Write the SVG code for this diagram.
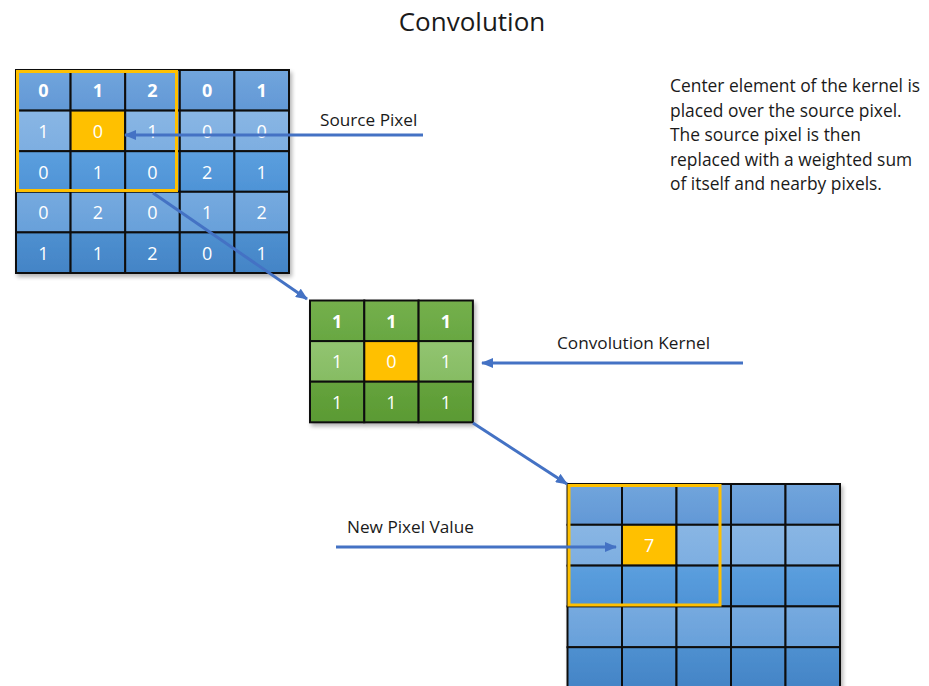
<svg xmlns="http://www.w3.org/2000/svg" width="929" height="686" viewBox="0 0 929 686">
  <style>
    .t { font-family: "Open Sans", "Noto Sans", "Liberation Sans", sans-serif; fill: #1a1a1a; }
    .lbl { font-size: 17.2px; }
    .num { font-family: "Open Sans", "Noto Sans", "Liberation Sans", sans-serif; fill: #ffffff; font-size: 18px; text-anchor: middle; dominant-baseline: central; }
    .b { font-weight: 700; }
    .cell { stroke: #111111; stroke-width: 2; }
    .frame { fill: none; stroke: #FFC000; stroke-width: 3; }
    .conn { stroke: #4472C4; stroke-width: 3; fill: none; marker-end: url(#arrow); }
    .b0 { fill: url(#gB0); } .b1 { fill: url(#gB1); } .b2 { fill: url(#gB2); } .b3 { fill: url(#gB3); } .b4 { fill: url(#gB4); }
    .g0 { fill: url(#gG0); } .g1 { fill: url(#gG1); } .g2 { fill: url(#gG2); }
    .hot { fill: #FFC000; }
  </style>
  <defs>
    <marker id="arrow" viewBox="0 0 12 10" markerWidth="12" markerHeight="10" refX="11" refY="5" orient="auto" markerUnits="userSpaceOnUse">
      <path d="M0,0 L12,5 L0,10 Z" fill="#4472C4"/>
    </marker>
    <filter id="shadow" x="-5%" y="-5%" width="115%" height="115%">
      <feGaussianBlur in="SourceAlpha" stdDeviation="2"/>
      <feOffset dx="2" dy="3" result="o"/>
      <feComponentTransfer><feFuncA type="linear" slope="0.3"/></feComponentTransfer>
      <feMerge><feMergeNode/><feMergeNode in="SourceGraphic"/></feMerge>
    </filter>
    <linearGradient id="gB0" x1="0" y1="0" x2="0" y2="1"><stop offset="0" stop-color="#71A5DC"/><stop offset="1" stop-color="#6298D6"/></linearGradient>
    <linearGradient id="gB1" x1="0" y1="0" x2="0" y2="1"><stop offset="0" stop-color="#89B6E4"/><stop offset="1" stop-color="#7DAEE1"/></linearGradient>
    <linearGradient id="gB2" x1="0" y1="0" x2="0" y2="1"><stop offset="0" stop-color="#5C9FDE"/><stop offset="1" stop-color="#4E93D6"/></linearGradient>
    <linearGradient id="gB3" x1="0" y1="0" x2="0" y2="1"><stop offset="0" stop-color="#76AADF"/><stop offset="1" stop-color="#68A0DA"/></linearGradient>
    <linearGradient id="gB4" x1="0" y1="0" x2="0" y2="1"><stop offset="0" stop-color="#4F90D0"/><stop offset="1" stop-color="#4384C6"/></linearGradient>
    <linearGradient id="gG0" x1="0" y1="0" x2="0" y2="1"><stop offset="0" stop-color="#75B04C"/><stop offset="1" stop-color="#68A742"/></linearGradient>
    <linearGradient id="gG1" x1="0" y1="0" x2="0" y2="1"><stop offset="0" stop-color="#92C471"/><stop offset="1" stop-color="#86BC63"/></linearGradient>
    <linearGradient id="gG2" x1="0" y1="0" x2="0" y2="1"><stop offset="0" stop-color="#66A33D"/><stop offset="1" stop-color="#5A9A33"/></linearGradient>
  </defs>

  <rect width="929" height="686" fill="#ffffff"/>

  <!-- Title -->
  <text class="t" x="472" y="31" font-size="26" text-anchor="middle">Convolution</text>

  <!-- Source image: 5x5 pixel grid -->
  <g id="source-grid" filter="url(#shadow)">
    <!-- row 0 -->
    <rect class="cell b0" x="16" y="70" width="54.6" height="40.6"/>
    <rect class="cell b0" x="70.6" y="70" width="54.6" height="40.6"/>
    <rect class="cell b0" x="125.2" y="70" width="54.6" height="40.6"/>
    <rect class="cell b0" x="179.8" y="70" width="54.6" height="40.6"/>
    <rect class="cell b0" x="234.4" y="70" width="54.6" height="40.6"/>
    <!-- row 1 -->
    <rect class="cell b1" x="16" y="110.6" width="54.6" height="40.6"/>
    <rect class="cell hot" x="70.6" y="110.6" width="54.6" height="40.6"/>
    <rect class="cell b1" x="125.2" y="110.6" width="54.6" height="40.6"/>
    <rect class="cell b1" x="179.8" y="110.6" width="54.6" height="40.6"/>
    <rect class="cell b1" x="234.4" y="110.6" width="54.6" height="40.6"/>
    <!-- row 2 -->
    <rect class="cell b2" x="16" y="151.2" width="54.6" height="40.6"/>
    <rect class="cell b2" x="70.6" y="151.2" width="54.6" height="40.6"/>
    <rect class="cell b2" x="125.2" y="151.2" width="54.6" height="40.6"/>
    <rect class="cell b2" x="179.8" y="151.2" width="54.6" height="40.6"/>
    <rect class="cell b2" x="234.4" y="151.2" width="54.6" height="40.6"/>
    <!-- row 3 -->
    <rect class="cell b3" x="16" y="191.8" width="54.6" height="40.6"/>
    <rect class="cell b3" x="70.6" y="191.8" width="54.6" height="40.6"/>
    <rect class="cell b3" x="125.2" y="191.8" width="54.6" height="40.6"/>
    <rect class="cell b3" x="179.8" y="191.8" width="54.6" height="40.6"/>
    <rect class="cell b3" x="234.4" y="191.8" width="54.6" height="40.6"/>
    <!-- row 4 -->
    <rect class="cell b4" x="16" y="232.4" width="54.6" height="40.6"/>
    <rect class="cell b4" x="70.6" y="232.4" width="54.6" height="40.6"/>
    <rect class="cell b4" x="125.2" y="232.4" width="54.6" height="40.6"/>
    <rect class="cell b4" x="179.8" y="232.4" width="54.6" height="40.6"/>
    <rect class="cell b4" x="234.4" y="232.4" width="54.6" height="40.6"/>
  </g>
  <g id="source-values">
    <text class="num b" x="43.3" y="90.3">0</text>
    <text class="num b" x="97.9" y="90.3">1</text>
    <text class="num b" x="152.5" y="90.3">2</text>
    <text class="num b" x="207.1" y="90.3">0</text>
    <text class="num b" x="261.7" y="90.3">1</text>
    <text class="num" x="43.3" y="130.9">1</text>
    <text class="num" x="97.9" y="130.9">0</text>
    <text class="num" x="152.5" y="130.9">1</text>
    <text class="num" x="207.1" y="130.9">0</text>
    <text class="num" x="261.7" y="130.9">0</text>
    <text class="num" x="43.3" y="171.5">0</text>
    <text class="num" x="97.9" y="171.5">1</text>
    <text class="num" x="152.5" y="171.5">0</text>
    <text class="num" x="207.1" y="171.5">2</text>
    <text class="num" x="261.7" y="171.5">1</text>
    <text class="num" x="43.3" y="212.1">0</text>
    <text class="num" x="97.9" y="212.1">2</text>
    <text class="num" x="152.5" y="212.1">0</text>
    <text class="num" x="207.1" y="212.1">1</text>
    <text class="num" x="261.7" y="212.1">2</text>
    <text class="num" x="43.3" y="252.7">1</text>
    <text class="num" x="97.9" y="252.7">1</text>
    <text class="num" x="152.5" y="252.7">2</text>
    <text class="num" x="207.1" y="252.7">0</text>
    <text class="num" x="261.7" y="252.7">1</text>
  </g>
  <rect id="source-window" class="frame" x="17.5" y="71.5" width="159" height="119"/>

  <!-- Convolution kernel: 3x3 weights -->
  <g id="kernel" filter="url(#shadow)">
    <rect class="cell g0" x="310" y="300.5" width="54.3" height="40.6"/>
    <rect class="cell g0" x="364.3" y="300.5" width="54.3" height="40.6"/>
    <rect class="cell g0" x="418.6" y="300.5" width="54.3" height="40.6"/>
    <rect class="cell g1" x="310" y="341.1" width="54.3" height="40.6"/>
    <rect class="cell hot" x="364.3" y="341.1" width="54.3" height="40.6"/>
    <rect class="cell g1" x="418.6" y="341.1" width="54.3" height="40.6"/>
    <rect class="cell g2" x="310" y="381.7" width="54.3" height="40.6"/>
    <rect class="cell g2" x="364.3" y="381.7" width="54.3" height="40.6"/>
    <rect class="cell g2" x="418.6" y="381.7" width="54.3" height="40.6"/>
  </g>
  <g id="kernel-values">
    <text class="num b" x="337.2" y="320.8">1</text>
    <text class="num b" x="391.5" y="320.8">1</text>
    <text class="num b" x="445.8" y="320.8">1</text>
    <text class="num" x="337.2" y="361.4">1</text>
    <text class="num" x="391.5" y="361.4">0</text>
    <text class="num" x="445.8" y="361.4">1</text>
    <text class="num" x="337.2" y="402">1</text>
    <text class="num" x="391.5" y="402">1</text>
    <text class="num" x="445.8" y="402">1</text>
  </g>

  <!-- Output image: 5x5 grid, only the computed pixel is filled in -->
  <g id="output-grid" filter="url(#shadow)">
    <rect class="cell b0" x="567.5" y="484" width="54.5" height="40.8"/>
    <rect class="cell b0" x="622" y="484" width="54.5" height="40.8"/>
    <rect class="cell b0" x="676.5" y="484" width="54.5" height="40.8"/>
    <rect class="cell b0" x="731" y="484" width="54.5" height="40.8"/>
    <rect class="cell b0" x="785.5" y="484" width="54.5" height="40.8"/>
    <rect class="cell b1" x="567.5" y="524.8" width="54.5" height="40.8"/>
    <rect class="cell hot" x="622" y="524.8" width="54.5" height="40.8"/>
    <rect class="cell b1" x="676.5" y="524.8" width="54.5" height="40.8"/>
    <rect class="cell b1" x="731" y="524.8" width="54.5" height="40.8"/>
    <rect class="cell b1" x="785.5" y="524.8" width="54.5" height="40.8"/>
    <rect class="cell b2" x="567.5" y="565.6" width="54.5" height="40.8"/>
    <rect class="cell b2" x="622" y="565.6" width="54.5" height="40.8"/>
    <rect class="cell b2" x="676.5" y="565.6" width="54.5" height="40.8"/>
    <rect class="cell b2" x="731" y="565.6" width="54.5" height="40.8"/>
    <rect class="cell b2" x="785.5" y="565.6" width="54.5" height="40.8"/>
    <rect class="cell b3" x="567.5" y="606.4" width="54.5" height="40.8"/>
    <rect class="cell b3" x="622" y="606.4" width="54.5" height="40.8"/>
    <rect class="cell b3" x="676.5" y="606.4" width="54.5" height="40.8"/>
    <rect class="cell b3" x="731" y="606.4" width="54.5" height="40.8"/>
    <rect class="cell b3" x="785.5" y="606.4" width="54.5" height="40.8"/>
    <rect class="cell b4" x="567.5" y="647.2" width="54.5" height="40.8"/>
    <rect class="cell b4" x="622" y="647.2" width="54.5" height="40.8"/>
    <rect class="cell b4" x="676.5" y="647.2" width="54.5" height="40.8"/>
    <rect class="cell b4" x="731" y="647.2" width="54.5" height="40.8"/>
    <rect class="cell b4" x="785.5" y="647.2" width="54.5" height="40.8"/>
  </g>
  <text class="num" x="649.2" y="545.2">7</text>
  <rect id="output-window" class="frame" x="569" y="485.5" width="151" height="119.5"/>

  <!-- Connectors -->
  <g id="connectors">
    <line class="conn" x1="423" y1="135" x2="125" y2="135"/>
    <line class="conn" x1="153" y1="193" x2="307" y2="299"/>
    <line class="conn" x1="743" y1="363" x2="482" y2="363"/>
    <line class="conn" x1="473" y1="423" x2="567" y2="484"/>
    <line class="conn" x1="336" y1="547" x2="616" y2="547"/>
  </g>

  <!-- Labels -->
  <g id="labels">
    <text class="t lbl" x="320" y="126">Source Pixel</text>
    <text class="t lbl" x="557" y="349">Convolution Kernel</text>
    <text class="t lbl" x="347" y="533">New Pixel Value</text>
    <text class="t" font-size="17.4">
      <tspan x="670" y="92">Center element of the kernel is</tspan>
      <tspan x="670" y="116.5">placed over the source pixel.</tspan>
      <tspan x="670" y="141">The source pixel is then</tspan>
      <tspan x="670" y="165.5">replaced with a weighted sum</tspan>
      <tspan x="670" y="190">of itself and nearby pixels.</tspan>
    </text>
  </g>
</svg>
